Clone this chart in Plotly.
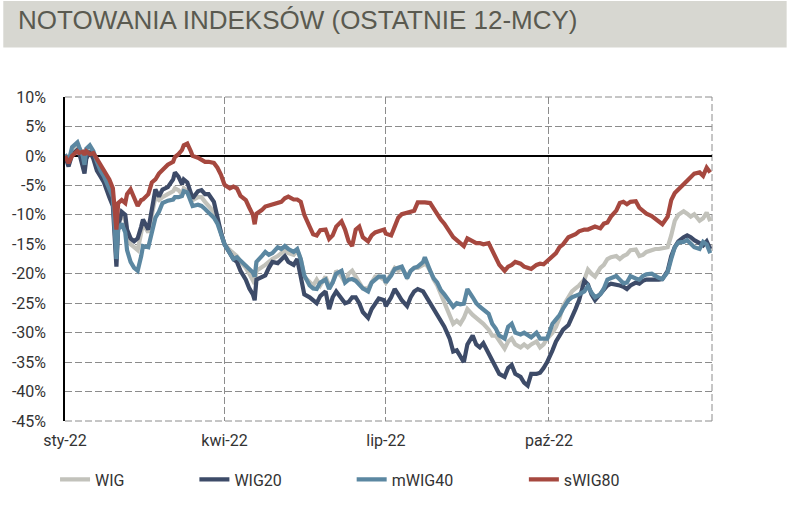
import pandas as pd
import plotly.graph_objects as go

# ---------------- data ----------------
start_date = "2022-01-01"
days = [0, 2, 4, 7, 8, 10, 11, 12, 14, 16, 18, 20, 22, 25, 27, 29, 30, 32, 34, 35,
        37, 39, 41, 43, 44, 47, 49, 51, 53, 55, 58, 61, 62, 64, 66, 67, 69, 71, 72, 75,
        77, 79, 81, 84, 86, 88, 90, 93, 95, 97, 99, 102, 104, 106, 107, 108, 111, 113, 115, 117,
        120, 122, 124, 126, 129, 131, 133, 135, 138, 140, 142, 144, 147, 149, 151, 153, 156, 158, 160, 162,
        164, 166, 168, 171, 173, 175, 177, 180, 181, 184, 186, 188, 190, 193, 195, 197, 199, 202, 203, 206,
        208, 210, 212, 214, 217, 219, 221, 223, 225, 227, 230, 232, 234, 236, 239, 241, 243, 245, 248, 250,
        252, 254, 257, 259, 261, 263, 266, 268, 270, 272, 275, 277, 279, 281, 284, 286, 288, 290, 293, 295,
        297, 299, 302, 304, 306, 308, 311, 313, 315, 317, 319, 322, 324, 326, 328, 331, 333, 335, 337, 340,
        342, 344, 346, 349, 351, 353, 355, 358, 360, 362, 364]

wig = [0.0, -1.0, 0.8, 1.5, 1.0, -1.0, -2.0, 0.5, 1.2, 0.2, -1.5, -2.5, -3.5, -6.0, -7.5, -16.0, -11.0, -10.0, -11.0, -13.0,
       -15.0, -15.5, -16.0, -13.0, -11.5, -13.0, -10.0, -7.0, -7.5, -7.0, -6.5, -6.0, -5.5, -5.8, -6.5, -5.5, -6.0, -7.0, -7.5, -7.0,
       -7.0, -7.8, -8.5, -9.5, -11.0, -13.0, -15.0, -16.0, -16.5, -17.0, -18.0, -19.0, -20.0, -21.0, -21.7, -19.5, -19.0, -18.5, -18.0, -17.5,
       -17.0, -16.5, -16.0, -16.5, -16.8, -16.0, -17.5, -20.5, -21.5, -22.0, -21.0, -22.0, -20.5, -22.0, -21.5, -19.5, -20.5, -21.5, -20.0, -19.5,
       -20.5, -21.5, -22.5, -22.5, -21.5, -20.5, -20.5, -21.0, -21.5, -20.0, -19.0, -19.5, -19.0, -20.5, -19.5, -19.0, -19.0, -18.5, -18.0, -19.5,
       -21.0, -22.0, -23.5, -25.0, -27.0, -28.5, -28.0, -28.5, -27.5, -26.0, -27.0, -27.5, -28.0, -28.5, -29.5, -30.5, -30.5, -31.5, -32.7, -31.5,
       -31.0, -32.0, -32.5, -32.0, -32.5, -32.0, -31.5, -32.5, -32.0, -31.0, -30.0, -29.0, -27.5, -25.5, -24.0, -23.0, -22.5, -22.0, -21.0, -19.3,
       -20.0, -20.5, -19.0, -18.5, -17.5, -17.2, -17.0, -17.5, -17.0, -16.7, -16.0, -15.9, -17.0, -16.8, -16.3, -15.9, -15.8, -15.8, -15.7, -15.5,
       -13.5, -11.0, -10.0, -9.4, -9.8, -10.3, -9.9, -11.0, -10.6, -9.6, -11.1]

wig20 = [0.0, -1.8, 0.2, 1.0, 0.5, -2.0, -3.0, -0.5, 0.8, -0.5, -2.5, -3.5, -4.5, -7.0, -8.5, -18.8, -12.0, -9.5, -10.0, -12.5,
         -14.0, -14.5, -14.0, -12.0, -10.8, -12.5, -8.5, -5.7, -6.9, -5.7, -5.3, -4.0, -2.8, -3.5, -4.8, -4.0, -4.5, -6.0, -7.2, -6.0,
         -5.8, -6.5, -6.5, -7.8, -10.5, -13.0, -15.0, -16.5, -17.5, -18.0, -19.5, -21.0, -22.5, -23.5, -24.5, -21.0, -20.5, -20.3, -19.0, -18.0,
         -18.2, -17.5, -17.0, -18.0, -18.5, -17.5, -20.9, -23.5, -24.0, -24.5, -25.0, -23.8, -23.0, -26.0, -24.0, -23.0, -24.2, -25.0, -24.8, -24.0,
         -24.0, -25.0, -26.5, -27.5, -26.0, -25.0, -24.2, -24.5, -25.5, -24.0, -22.6, -23.5, -24.5, -25.5, -24.0, -23.0, -22.6, -23.0, -23.5, -25.0,
         -26.0, -27.0, -28.0, -29.0, -31.0, -33.2, -33.0, -34.0, -35.0, -32.0, -30.5, -32.0, -32.5, -31.8, -33.5, -34.5, -36.0, -37.0, -37.5, -36.0,
         -35.5, -37.0, -37.5, -38.5, -39.0, -37.0, -37.0, -36.8, -36.0, -35.0, -33.0, -31.5, -30.5, -29.5, -28.7, -27.5, -26.0, -24.5, -21.2, -21.8,
         -23.5, -24.5, -23.5, -22.6, -22.0, -21.7, -21.8, -22.0, -22.2, -22.6, -22.0, -21.5, -21.7, -21.2, -21.0, -20.9, -21.0, -21.0, -20.9, -19.5,
         -17.0, -15.5, -14.5, -13.8, -13.5, -13.8, -14.3, -14.8, -15.2, -14.5, -15.8]

mwig40 = [0.3, -1.0, 1.5, 2.3, 1.5, 0.0, -1.5, 1.2, 1.8, 0.8, -1.0, -2.5, -3.5, -5.5, -7.0, -17.5, -12.5, -11.5, -13.0, -16.0,
          -18.0, -19.0, -19.5, -17.0, -15.3, -15.5, -13.0, -10.5, -9.5, -8.0, -7.6, -7.4, -7.0, -7.0, -6.8, -6.0, -6.2, -7.5, -8.5, -8.3,
          -8.5, -9.0, -9.6, -10.5, -11.5, -13.5, -15.0, -16.5, -17.5, -17.2, -17.8, -18.8, -19.2, -19.8, -20.5, -18.0, -17.0, -16.3, -16.8, -16.5,
          -15.5, -15.8, -15.3, -15.8, -16.3, -15.8, -17.5, -20.3, -22.0, -22.5, -22.6, -21.5, -21.0, -22.6, -21.5, -20.0, -19.5, -21.5, -21.0, -20.9,
          -21.2, -21.8, -22.5, -23.0, -21.5, -21.0, -20.5, -20.5, -21.5, -20.3, -19.2, -19.0, -18.8, -20.8, -19.5, -19.0, -18.8, -18.0, -17.2, -19.5,
          -20.8, -21.5, -22.8, -23.5, -24.8, -25.6, -25.0, -25.2, -25.1, -22.6, -24.0, -25.0, -25.6, -26.0, -26.8, -28.5, -29.3, -30.5, -31.0, -29.0,
          -28.5, -30.0, -30.3, -30.0, -30.5, -30.8, -30.0, -31.0, -31.0, -31.0, -28.5, -27.8, -27.0, -25.9, -24.5, -24.0, -23.8, -23.5, -23.0, -22.1,
          -23.2, -24.0, -23.5, -22.5, -21.0, -20.8, -20.4, -21.0, -21.6, -21.5, -20.4, -20.8, -21.0, -20.4, -20.1, -20.0, -20.4, -20.7, -20.9, -19.7,
          -17.5, -15.5, -14.7, -14.6, -14.3, -14.8, -15.5, -15.8, -14.6, -15.0, -16.5]

swig80 = [0.0, -1.2, 0.0, 0.8, 0.5, 0.7, 0.2, 0.8, 0.3, 0.5, -0.5, -1.5, -2.5, -4.0, -5.5, -12.5, -8.0, -7.5, -8.0, -6.5,
          -5.7, -7.0, -8.5, -7.5, -7.4, -6.5, -4.5, -4.0, -3.0, -2.4, -1.5, -1.0, -0.2, 0.3, 1.0, 1.8, 2.1, 0.8, 0.0, -0.3,
          -0.6, -1.0, -1.0, -1.2, -2.0, -3.2, -4.9, -5.5, -5.2, -5.5, -6.8, -7.5, -8.8, -10.0, -11.6, -9.8, -9.2, -8.6, -8.4, -8.2,
          -8.0, -7.8, -7.2, -6.9, -7.4, -7.4, -7.8, -10.0, -12.0, -13.3, -13.5, -12.6, -12.5, -14.1, -13.5, -12.0, -11.1, -12.5, -14.5, -15.3,
          -12.5, -12.0, -13.8, -14.5, -13.5, -13.0, -12.8, -12.5, -13.2, -13.5, -12.0, -10.5, -9.9, -9.7, -9.5, -9.3, -7.9, -7.8, -7.9, -8.0,
          -9.0, -10.0, -10.8, -11.5, -13.0, -13.8, -14.3, -14.8, -15.3, -14.0, -14.5, -14.8, -14.8, -15.0, -14.8, -16.0, -17.5, -18.5, -19.5, -18.8,
          -18.5, -18.0, -18.3, -18.8, -19.0, -19.2, -18.5, -18.3, -18.4, -17.8, -17.0, -16.5, -15.5, -15.0, -13.8, -13.5, -13.3, -12.8, -12.5, -12.5,
          -12.3, -12.0, -12.3, -11.5, -11.3, -10.3, -9.3, -8.0, -7.8, -8.2, -7.8, -7.7, -8.8, -9.3, -9.8, -10.2, -10.6, -11.1, -11.6, -10.3,
          -7.5, -6.3, -5.6, -4.8, -4.2, -3.6, -3.0, -2.8, -3.4, -2.0, -2.8]

series_names = ["WIG", "WIG20", "mWIG40", "sWIG80"]
series_values = [wig, wig20, mwig40, swig80]
series_colors = ["#c2c2bb", "#3d4b68", "#5b87a1", "#a6483f"]

x_tick_dates = ["2022-01-01", "2022-04-01", "2022-07-01", "2022-10-01", "2023-01-01"]
x_tick_labels = ["sty-22", "kwi-22", "lip-22", "paź-22", ""]
y_tick_values = [10, 5, 0, -5, -10, -15, -20, -25, -30, -35, -40, -45]
y_tick_labels = ["10%", "5%", "0%", "-5%", "-10%", "-15%", "-20%", "-25%", "-30%", "-35%", "-40%", "-45%"]
title_text = "NOTOWANIA INDEKSÓW (OSTATNIE 12-MCY)"

# ---------------- figure ----------------
dates = pd.Timestamp(start_date) + pd.to_timedelta(days, unit="D")

W, H = 787, 508
ML, MR, MT, MB = 62, 75, 97, 84
PW, PH = W - ML - MR, H - MT - MB

def px_x(p):
    return (p - ML) / PW

def px_y(p):
    return (H - MB - p) / PH

fig = go.Figure()
legend_ids = ["legend", "legend2", "legend3", "legend4"]
legend_text_px = [92, 232, 390, 563]
for name, vals, col, lid in zip(series_names, series_values, series_colors, legend_ids):
    fig.add_trace(go.Scatter(x=dates, y=vals, mode="lines", name=name,
                             line=dict(color=col, width=4.2), legend=lid))

tick_font = dict(family="Roboto, Arial, sans-serif", size=16, color="#333333")
legend_layout = {}
for lid, tx in zip(legend_ids, legend_text_px):
    legend_layout[lid] = dict(x=px_x(tx - 40), xanchor="left", y=px_y(483), yanchor="middle",
                              orientation="h", font=tick_font, bgcolor="rgba(0,0,0,0)",
                              borderwidth=0, tracegroupgap=0)

fig.update_layout(
    width=W, height=H,
    margin=dict(l=ML, r=MR, t=MT, b=MB),
    paper_bgcolor="white", plot_bgcolor="white",
    showlegend=True,
    title=dict(text=title_text, x=18 / W, xanchor="left", y=1 - 20 / H, yanchor="middle",
               font=dict(family="Liberation Sans, Arial, sans-serif",
                         size=26, color="#5a5a50")),
    **legend_layout,
)

# title band
fig.add_shape(type="rect", xref="paper", yref="paper",
              x0=px_x(0), x1=px_x(W), y0=px_y(47), y1=px_y(0),
              fillcolor="#d7d7d1", line=dict(width=0), layer="below")
# dashed frame: top, right, bottom
frame = dict(color="#8c8c8c", width=1, dash="7px,3px")
fig.add_shape(type="line", xref="paper", yref="paper", x0=0, x1=1, y0=1, y1=1, line=frame, layer="below")
fig.add_shape(type="line", xref="paper", yref="paper", x0=1, x1=1, y0=0, y1=1, line=frame, layer="below")
fig.add_shape(type="line", xref="paper", yref="paper", x0=0, x1=1, y0=0, y1=0, line=frame, layer="below")

fig.update_xaxes(
    type="date", range=[x_tick_dates[0], x_tick_dates[-1]],
    tickmode="array", tickvals=x_tick_dates, ticktext=x_tick_labels,
    showgrid=True, gridcolor="#8c8c8c", gridwidth=1, griddash="7px,3px",
    showline=False, zeroline=False, ticks="", tickfont=tick_font, ticklabelstandoff=8,
)
fig.update_yaxes(
    range=[-45, 10], tickmode="array", tickvals=y_tick_values, ticktext=y_tick_labels,
    showgrid=True, gridcolor="#8c8c8c", gridwidth=1, griddash="7px,3px",
    zeroline=True, zerolinecolor="#000000", zerolinewidth=1.6,
    showline=True, linecolor="#000000", linewidth=1.5,
    ticks="", tickfont=tick_font, ticklabelstandoff=14,
)

fig.write_html("out.html", config={"displayModeBar": False},
               post_script="document.body.style.margin='0';document.body.style.overflow='hidden';")
